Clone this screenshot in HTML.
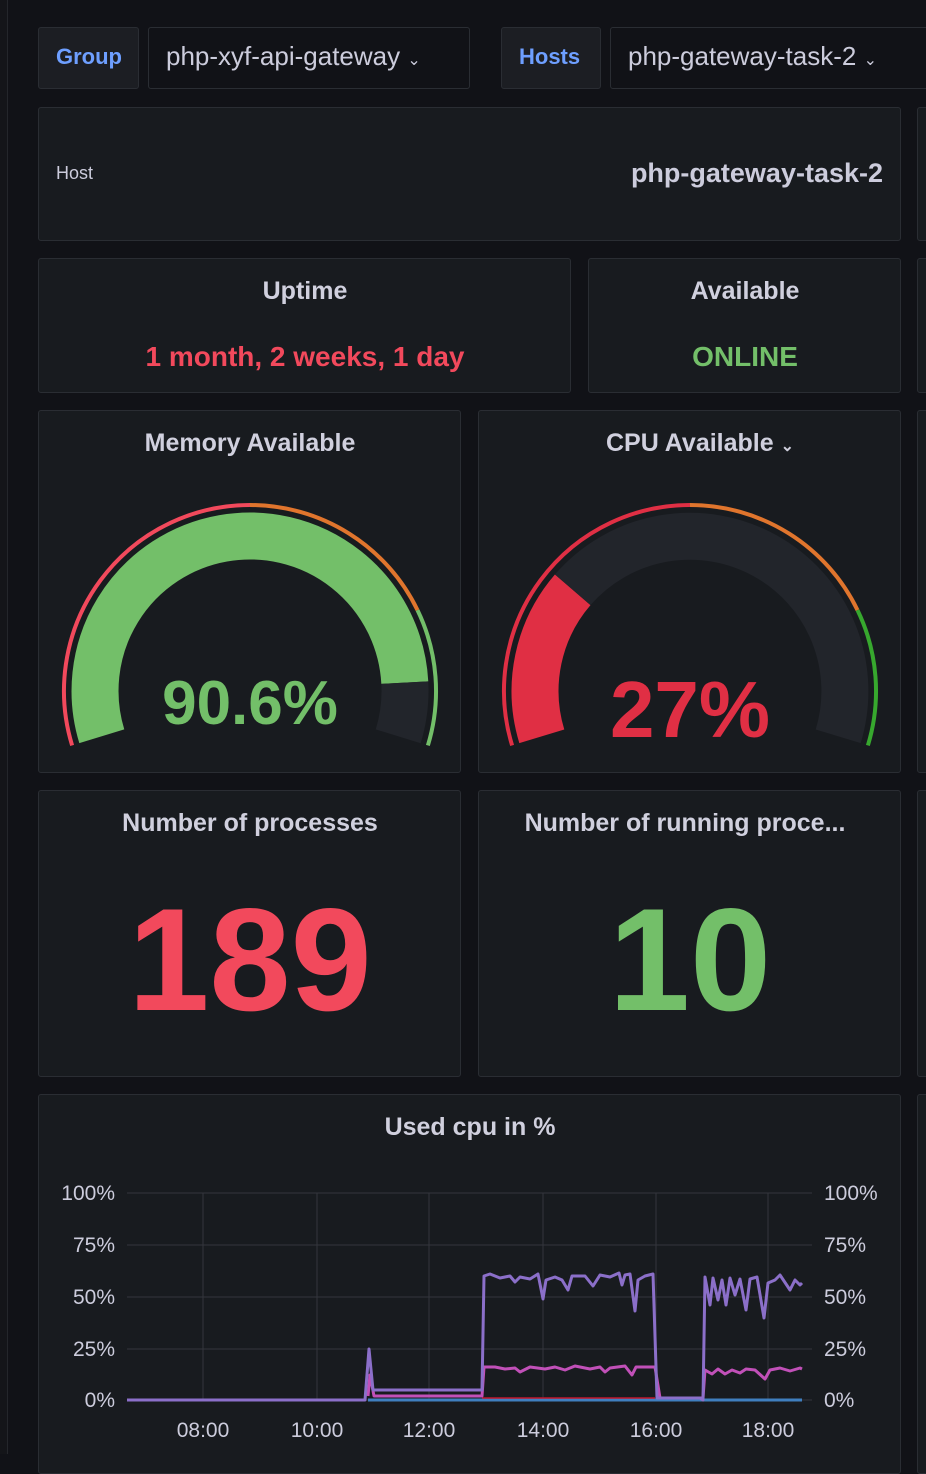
<!DOCTYPE html>
<html><head><meta charset="utf-8"><style>
*{margin:0;padding:0;box-sizing:border-box}
body{width:926px;height:1454px;background:#111217;position:relative;overflow:hidden;font-family:"Liberation Sans",sans-serif;color:#ccccdc}
.p{position:absolute;background:#181b1f;border:1px solid #2a2d33;border-radius:3px}
.t{position:absolute;white-space:nowrap}
.c{text-align:center;transform:translateX(-50%)}
.h{font-weight:bold;color:#d0d0de}
</style></head><body>
<div style="position:absolute;left:0;top:0;width:8px;height:1454px;background:#141519;border-right:1px solid #24262b"></div>

<div class="p" style="left:38px;top:27px;width:101px;height:62px;background:#1c1e23"></div>
<div class="t" style="left:56px;top:44px;font-size:22px;font-weight:bold;color:#6e9fff">Group</div>
<div class="p" style="left:148px;top:27px;width:322px;height:62px;background:#111217"></div>
<div class="t" style="left:166px;top:41px;font-size:26px">php-xyf-api-gateway <span style="font-size:16px">&#8964;</span></div>
<div class="p" style="left:501px;top:27px;width:100px;height:62px;background:#1c1e23"></div>
<div class="t" style="left:519px;top:44px;font-size:22px;font-weight:bold;color:#6e9fff">Hosts</div>
<div class="p" style="left:610px;top:27px;width:330px;height:62px;background:#111217"></div>
<div class="t" style="left:628px;top:41px;font-size:26px">php-gateway-task-2 <span style="font-size:16px">&#8964;</span></div>

<div class="p" style="left:38px;top:107px;width:863px;height:134px"></div>
<div class="p" style="left:917px;top:107px;width:40px;height:134px"></div>
<div class="t" style="left:56px;top:163px;font-size:18px">Host</div>
<div class="t" style="right:43px;top:158px;font-size:27px;font-weight:bold">php-gateway-task-2</div>

<div class="p" style="left:38px;top:258px;width:533px;height:135px"></div>
<div class="p" style="left:588px;top:258px;width:313px;height:135px"></div>
<div class="p" style="left:917px;top:258px;width:40px;height:135px"></div>
<div class="t c h" style="left:305px;top:277px;font-size:25px">Uptime</div>
<div class="t c" style="left:305px;top:341px;font-size:28px;font-weight:bold;color:#f2495c">1 month, 2 weeks, 1 day</div>
<div class="t c h" style="left:745px;top:277px;font-size:25px">Available</div>
<div class="t c" style="left:745px;top:341px;font-size:28px;font-weight:bold;color:#73bf69">ONLINE</div>

<div class="p" style="left:38px;top:410px;width:423px;height:363px"></div>
<div class="p" style="left:478px;top:410px;width:423px;height:363px"></div>
<div class="p" style="left:917px;top:410px;width:40px;height:363px"></div>
<div class="t c h" style="left:250px;top:429px;font-size:25px">Memory Available</div>
<div class="t c h" style="left:700px;top:429px;font-size:25px">CPU Available <span style="font-size:16px">&#8964;</span></div>

<svg style="position:absolute;left:0;top:0" width="926" height="800">
<g fill="none">
<path d="M101.8 736.3 A155 155 0 1 1 404.8 682.6" stroke="#73bf69" stroke-width="47"/>
<path d="M404.8 682.6 A155 155 0 0 1 398.2 736.3" stroke="#22252b" stroke-width="47"/>
<path d="M72.1 745.4 A186 186 0 0 1 250 505" stroke="#f2495c" stroke-width="4"/>
<path d="M250 505 A186 186 0 0 1 417.5 610.1" stroke="#e0752d" stroke-width="4"/>
<path d="M417.5 610.1 A186 186 0 0 1 427.9 745.4" stroke="#73bf69" stroke-width="4"/>

<path d="M541.8 736.3 A155 155 0 0 1 572.7 589.8" stroke="#e02f44" stroke-width="47"/>
<path d="M572.7 589.8 A155 155 0 0 1 838.2 736.3" stroke="#22252b" stroke-width="47"/>
<path d="M512.1 745.4 A186 186 0 0 1 690 505" stroke="#e02f44" stroke-width="4"/>
<path d="M690 505 A186 186 0 0 1 857.5 610.1" stroke="#e0752d" stroke-width="4"/>
<path d="M857.5 610.1 A186 186 0 0 1 867.9 745.4" stroke="#37a82e" stroke-width="4"/>
</g>
<text x="250" y="724" text-anchor="middle" font-family="Liberation Sans" font-size="62" font-weight="bold" fill="#73bf69">90.6%</text>
<text x="690" y="737" text-anchor="middle" font-family="Liberation Sans" font-size="80" font-weight="bold" fill="#e02f44">27%</text>
</svg>

<div class="p" style="left:38px;top:790px;width:423px;height:287px"></div>
<div class="p" style="left:478px;top:790px;width:423px;height:287px"></div>
<div class="p" style="left:917px;top:790px;width:40px;height:287px"></div>
<div class="t c h" style="left:250px;top:809px;font-size:25px">Number of processes</div>
<div class="t c h" style="left:685px;top:809px;font-size:25px">Number of running proce...</div>
<div class="t c" style="left:250px;top:880px;font-size:146px;font-weight:bold;color:#f2495c;line-height:160px">189</div>
<div class="t c" style="left:690px;top:880px;font-size:146px;font-weight:bold;color:#73bf69;line-height:160px">10</div>

<div class="p" style="left:38px;top:1094px;width:863px;height:380px"></div>
<div class="p" style="left:917px;top:1094px;width:40px;height:380px"></div>
<div class="t c h" style="left:470px;top:1113px;font-size:25px">Used cpu in %</div>

<svg style="position:absolute;left:0;top:1160px" width="926" height="294" font-family="Liberation Sans" font-size="21" fill="#ccccdc">
<g stroke="#34363c" stroke-width="1">
<line x1="127" y1="33" x2="812" y2="33"/><line x1="127" y1="85" x2="812" y2="85"/>
<line x1="127" y1="137" x2="812" y2="137"/><line x1="127" y1="189" x2="812" y2="189"/>
<line x1="127" y1="240" x2="812" y2="240"/>
<line x1="203" y1="33" x2="203" y2="240"/><line x1="317" y1="33" x2="317" y2="240"/>
<line x1="429" y1="33" x2="429" y2="240"/><line x1="543" y1="33" x2="543" y2="240"/>
<line x1="656" y1="33" x2="656" y2="240"/><line x1="768" y1="33" x2="768" y2="240"/>
</g>
<g text-anchor="end"><text x="115" y="40">100%</text><text x="115" y="92">75%</text><text x="115" y="144">50%</text><text x="115" y="196">25%</text><text x="115" y="247">0%</text></g>
<g><text x="824" y="40">100%</text><text x="824" y="92">75%</text><text x="824" y="144">50%</text><text x="824" y="196">25%</text><text x="824" y="247">0%</text></g>
<g text-anchor="middle"><text x="203" y="277">08:00</text><text x="317" y="277">10:00</text><text x="429" y="277">12:00</text><text x="543" y="277">14:00</text><text x="656" y="277">16:00</text><text x="768" y="277">18:00</text></g>
<g fill="none" stroke-width="3" stroke-linejoin="round">
<polyline stroke="#3f7fbf" points="368,240 802,240"/>
<polyline stroke="#c4162a" stroke-width="1.5" points="482,238 655,238"/>
<polyline stroke="#c150b8" points="368,236 370,215 374,236 482,236 484,207 495,207 505,209 515,208 520,212 530,207 545,209 555,207 565,210 575,206 590,209 600,207 605,212 610,208 625,206 632,215 636,207 655,207 660,238 700,238 703,238 705,210 712,214 718,209 725,214 732,210 740,213 746,209 755,210 765,219 770,210 780,208 790,211 800,208 802,209"/>
<polyline stroke="#8b6fc9" points="127,240 365,240 369,189 373,230 482,230 484,116 490,114 500,118 510,116 515,122 520,117 530,119 538,114 543,139 546,120 555,117 562,120 568,130 572,116 585,116 593,126 600,115 610,117 619,113 622,125 625,115 630,114 635,151 638,120 645,116 653,114 657,238 663,238 700,238 703,240 705,117 710,145 713,118 718,140 722,120 726,145 730,118 735,135 740,119 746,150 750,119 757,117 764,158 768,123 775,120 780,115 790,130 795,120 800,125 802,123"/>
</g>
</svg>
</body></html>
